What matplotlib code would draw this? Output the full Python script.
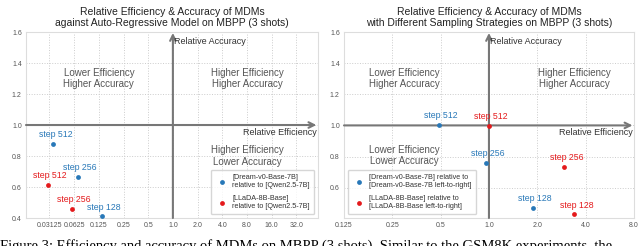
import numpy as np
import matplotlib
matplotlib.use("Agg")
import matplotlib.pyplot as plt

plt.rcParams['font.family'] = ['Liberation Sans', 'DejaVu Sans']

# data: (relative efficiency, relative accuracy)
steps = ['step 512', 'step 256', 'step 128']
left_dream_eff = [0.035, 0.069, 0.137]
left_dream_acc = [0.88, 0.665, 0.41]
left_llada_eff = [0.030, 0.059]
left_llada_acc = [0.615, 0.456]

right_dream_eff = [0.485, 0.954, 1.87]
right_dream_acc = [1.005, 0.76, 0.467]
right_llada_eff = [1.0, 2.95, 3.41]
right_llada_acc = [0.995, 0.735, 0.428]

left_xticks = [0.03125, 0.0625, 0.125, 0.25, 0.5, 1.0, 2.0, 4.0, 8.0, 16.0, 32.0]
left_xlabels = ['0.03125', '0.0625', '0.125', '0.25', '0.5', '1.0', '2.0', '4.0', '8.0', '16.0', '32.0']
right_xticks = [0.125, 0.25, 0.5, 1.0, 2.0, 4.0, 8.0]
right_xlabels = ['0.125', '0.25', '0.5', '1.0', '2.0', '4.0', '8.0']
yticks = [0.4, 0.6, 0.8, 1.0, 1.2, 1.4, 1.6]

blue = '#2878b8'
red = '#e41a1c'
quad_color = '#555555'

fig = plt.figure(figsize=(6.4, 2.46), dpi=100)
ax1 = fig.add_axes([0.0406, 0.1138, 0.456, 0.756])
ax2 = fig.add_axes([0.5375, 0.1138, 0.453, 0.756])


def style(ax, xticks, xlabels, xlim, ylim):
    ax.set_xscale('log', base=2)
    ax.set_xlim(*xlim)
    ax.set_ylim(*ylim)
    ax.set_xticks(xticks)
    ax.set_xticklabels(xlabels)
    ax.minorticks_off()
    ax.set_yticks([t for t in yticks if ylim[0] <= t <= ylim[1]])
    ax.set_yticklabels([f'{t:.1f}' for t in yticks if ylim[0] <= t <= ylim[1]])
    ax.tick_params(length=0, labelsize=5, labelcolor='#555555', pad=3)
    ax.grid(True, linestyle=':', color='#cccccc', lw=0.7)
    for s in ax.spines.values():
        s.set_color('#dddddd')
        s.set_linewidth(0.8)
    # axis arrows
    ax.annotate('', xy=(0.995, 1.0), xytext=(0.0, 1.0),
                xycoords=('axes fraction', 'data'),
                arrowprops=dict(arrowstyle='->', color='#777777', lw=1.5,
                                shrinkA=0, shrinkB=0))
    ax.annotate('', xy=(1.0, 0.995), xytext=(1.0, 0.0),
                xycoords=('data', 'axes fraction'),
                arrowprops=dict(arrowstyle='->', color='#777777', lw=1.5,
                                shrinkA=0, shrinkB=0))
    ax.annotate('Relative Efficiency', xy=(0.995, 1.0),
                xycoords=('axes fraction', 'data'), xytext=(0, -2),
                textcoords='offset points', ha='right', va='top',
                fontsize=6.5, color='#333333')
    ax.annotate('Relative Accuracy', xy=(1.0, 0.975),
                xycoords=('data', 'axes fraction'), xytext=(1, 0),
                textcoords='offset points', ha='left', va='top',
                fontsize=6.5, color='#333333')


def points(ax, eff, acc, color, label):
    ax.scatter(eff, acc, s=12, color=color, label=label, zorder=5, linewidths=0)
    for e, a, st in zip(eff, acc, steps):
        ax.annotate(st, xy=(e, a), xytext=(1.5, 3.5), textcoords='offset points',
                    ha='center', va='bottom', fontsize=6.3, color=color)


style(ax1, left_xticks, left_xlabels, (2 ** -5.95, 2 ** 5.87), (0.4, 1.6))
style(ax2, right_xticks, right_xlabels, (0.125, 8.0), (0.405, 1.6))

points(ax1, left_dream_eff, left_dream_acc, blue,
       '[Dream-v0-Base-7B]\nrelative to [Qwen2.5-7B]')
points(ax1, left_llada_eff, left_llada_acc, red,
       '[LLaDA-8B-Base]\nrelative to [Qwen2.5-7B]')
points(ax2, right_dream_eff, right_dream_acc, blue,
       '[Dream-v0-Base-7B] relative to\n[Dream-v0-Base-7B left-to-right]')
points(ax2, right_llada_eff, right_llada_acc, red,
       '[LLaDA-8B-Base] relative to\n[LLaDA-8B-Base left-to-right]')

qkw = dict(ha='center', va='center', fontsize=7, color=quad_color, linespacing=1.15)
ax1.text(0.125, 1.3, 'Lower Efficiency\nHigher Accuracy', **qkw)
ax1.text(8.0, 1.3, 'Higher Efficiency\nHigher Accuracy', **qkw)
ax1.text(8.0, 0.8, 'Higher Efficiency\nLower Accuracy', **qkw)
ax2.text(0.297, 1.3, 'Lower Efficiency\nHigher Accuracy', **qkw)
ax2.text(3.41, 1.3, 'Higher Efficiency\nHigher Accuracy', **qkw)
ax2.text(0.297, 0.806, 'Lower Efficiency\nLower Accuracy', **qkw)

lkw = dict(fontsize=5.2, frameon=True, handletextpad=0.4, borderpad=0.6,
           labelspacing=0.8, edgecolor='#cccccc', labelcolor='#333333')
ax1.legend(loc='lower right', **lkw)
ax2.legend(loc='lower left', **lkw)

ax1.set_title('Relative Efficiency & Accuracy of MDMs\nagainst Auto-Regressive Model on MBPP (3 shots)',
              fontsize=7.5, color='#222222', pad=4, linespacing=1.2)
ax2.set_title('Relative Efficiency & Accuracy of MDMs\nwith Different Sampling Strategies on MBPP (3 shots)',
              fontsize=7.5, color='#222222', pad=4, linespacing=1.2)

# caption of the source figure, cut off at the bottom edge as in the reference
fig.text(0.0, 1 - 239 / 246,
         'Figure 3: Efficiency and accuracy of MDMs on MBPP (3 shots). Similar to the GSM8K experiments, the',
         family=['Liberation Serif', 'DejaVu Serif'], fontsize=10.5, ha='left', va='top', color='black')

fig.savefig('out.png', dpi=100)
